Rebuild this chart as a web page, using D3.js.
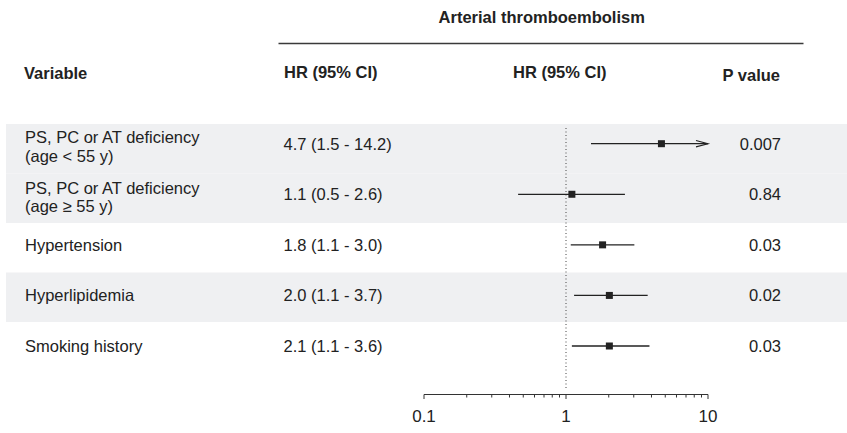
<!DOCTYPE html>
<html>
<head>
<meta charset="utf-8">
<script src="https://cdn.jsdelivr.net/npm/d3@7"></script>
<style>
  html, body { margin: 0; padding: 0; background: #fff; }
  svg { display: block; font-family: "Liberation Sans", Arial, Helvetica, sans-serif; }
</style>
</head>
<body>
<svg id="chart" width="847" height="433"></svg>
<script>
// ---- data ----
const title = "Arterial thromboembolism";
const headers = ["Variable", "HR (95% CI)", "HR (95% CI)", "P value"];
const variables = [
  ["PS, PC or AT deficiency", "(age < 55 y)"],
  ["PS, PC or AT deficiency", "(age \u2265 55 y)"],
  ["Hypertension"],
  ["Hyperlipidemia"],
  ["Smoking history"]
];
const hrLabels = ["4.7 (1.5 - 14.2)", "1.1 (0.5 - 2.6)", "1.8 (1.1 - 3.0)", "2.0 (1.1 - 3.7)", "2.1 (1.1 - 3.6)"];
const hr = [4.7, 1.1, 1.81, 2.02, 2.02];
const lo = [1.5, 0.46, 1.08, 1.14, 1.1];
const hi = [14.2, 2.6, 3.03, 3.76, 3.87];
const pValues = ["0.007", "0.84", "0.03", "0.02", "0.03"];
const shaded = [true, true, false, true, false];
const axisTicks = [0.1, 1, 10];
const axisTickLabels = ["0.1", "1", "10"];

// ---- layout ----
const svg = d3.select("#chart");
const ink = "#222";
const fs = 16.5;
const idx = d3.range(variables.length);

const x = d3.scaleLog().domain([0.1, 10]).range([424, 708]);
const yBand = d3.scaleBand().domain(idx).range([124, 371.5]).padding(0);
const y = d3.scalePoint().domain(idx).range([143.7, 346]);

// row shading
svg.append("g").selectAll("rect")
  .data(idx.filter(i => shaded[i]))
  .join("rect")
  .attr("x", 6).attr("width", 841)
  .attr("y", i => yBand(i) - (i === 3 ? 0 : 0))
  .attr("height", yBand.bandwidth())
  .attr("fill", "#eff0f2");

// title
svg.append("text")
  .attr("x", 541.7).attr("y", 23)
  .attr("text-anchor", "middle")
  .attr("font-weight", "bold").attr("font-size", fs)
  .attr("fill", ink)
  .text(title);

svg.append("line")
  .attr("x1", 278.5).attr("x2", 803.5)
  .attr("y1", 43.5).attr("y2", 43.5)
  .attr("stroke", "#3a3a3a").attr("stroke-width", 1.3);

// headers
const headerPos = [[24, 79], [284, 78], [513, 78], [722.5, 81]];
svg.append("g").selectAll("text")
  .data(headers)
  .join("text")
  .attr("x", (d, i) => headerPos[i][0])
  .attr("y", (d, i) => headerPos[i][1])
  .attr("font-weight", "bold").attr("font-size", fs)
  .attr("fill", ink)
  .text(d => d);

// variable labels
const lineH = 18.4;
const varG = svg.append("g");
idx.forEach(i => {
  const lines = variables[i];
  const t = varG.append("text")
    .attr("font-size", fs).attr("fill", ink);
  const base = lines.length > 1 ? y(i) - 0.5 : y(i) + 5.8;
  lines.forEach((l, k) => {
    t.append("tspan").attr("x", 25).attr("y", base + k * lineH).text(l);
  });
});

// HR text
svg.append("g").selectAll("text")
  .data(idx)
  .join("text")
  .attr("x", 283.5).attr("y", i => y(i) + 5.8)
  .attr("font-size", fs).attr("fill", ink)
  .text(i => hrLabels[i]);

// P values
svg.append("g").selectAll("text")
  .data(idx)
  .join("text")
  .attr("x", 781).attr("y", i => y(i) + 5.8)
  .attr("text-anchor", "end")
  .attr("font-size", fs).attr("fill", ink)
  .text(i => pValues[i]);

// reference line at 1
svg.append("line")
  .attr("x1", x(1)).attr("x2", x(1))
  .attr("y1", 128).attr("y2", 389)
  .attr("stroke", "#444").attr("stroke-width", 1)
  .attr("stroke-dasharray", "1,2.5");

// CI lines
const [dMin, dMax] = x.domain();
const ciG = svg.append("g");
idx.forEach(i => {
  const x1 = x(Math.max(lo[i], dMin));
  const x2 = x(Math.min(hi[i], dMax));
  ciG.append("line")
    .attr("x1", x1).attr("x2", x2)
    .attr("y1", y(i)).attr("y2", y(i))
    .attr("stroke", ink).attr("stroke-width", 1.3);
  if (hi[i] > dMax) {
    ciG.append("path")
      .attr("d", `M${x2 - 12},${y(i) - 3.2}L${x2},${y(i)}L${x2 - 12},${y(i) + 3.2}`)
      .attr("fill", "none").attr("stroke", ink).attr("stroke-width", 1.1);
  }
  if (lo[i] < dMin) {
    ciG.append("path")
      .attr("d", `M${x1 + 12},${y(i) - 3.2}L${x1},${y(i)}L${x1 + 12},${y(i) + 3.2}`)
      .attr("fill", "none").attr("stroke", ink).attr("stroke-width", 1.1);
  }
});

// boxes
const bs = 7;
svg.append("g").selectAll("rect")
  .data(idx)
  .join("rect")
  .attr("x", i => x(hr[i]) - bs / 2)
  .attr("y", i => y(i) - bs / 2)
  .attr("width", bs).attr("height", bs)
  .attr("fill", ink);

// x axis
const axisY = 394.5;
const axisG = svg.append("g").attr("transform", `translate(0,${axisY})`);
axisG.append("line")
  .attr("x1", x(dMin)).attr("x2", x(dMax))
  .attr("stroke", "#333").attr("stroke-width", 1);
const allTicks = x.ticks();
axisG.selectAll("line.tick")
  .data(allTicks)
  .join("line")
  .attr("class", "tick")
  .attr("x1", d => x(d)).attr("x2", d => x(d))
  .attr("y1", 0)
  .attr("y2", d => axisTicks.some(t => Math.abs(t - d) < 1e-9) ? 4.5 : 3)
  .attr("stroke", "#333").attr("stroke-width", 1);
axisG.selectAll("text")
  .data(axisTicks)
  .join("text")
  .attr("x", d => x(d))
  .attr("y", 27.5)
  .attr("text-anchor", "middle")
  .attr("font-size", 17).attr("fill", ink)
  .text((d, i) => axisTickLabels[i]);
</script>
</body>
</html>
